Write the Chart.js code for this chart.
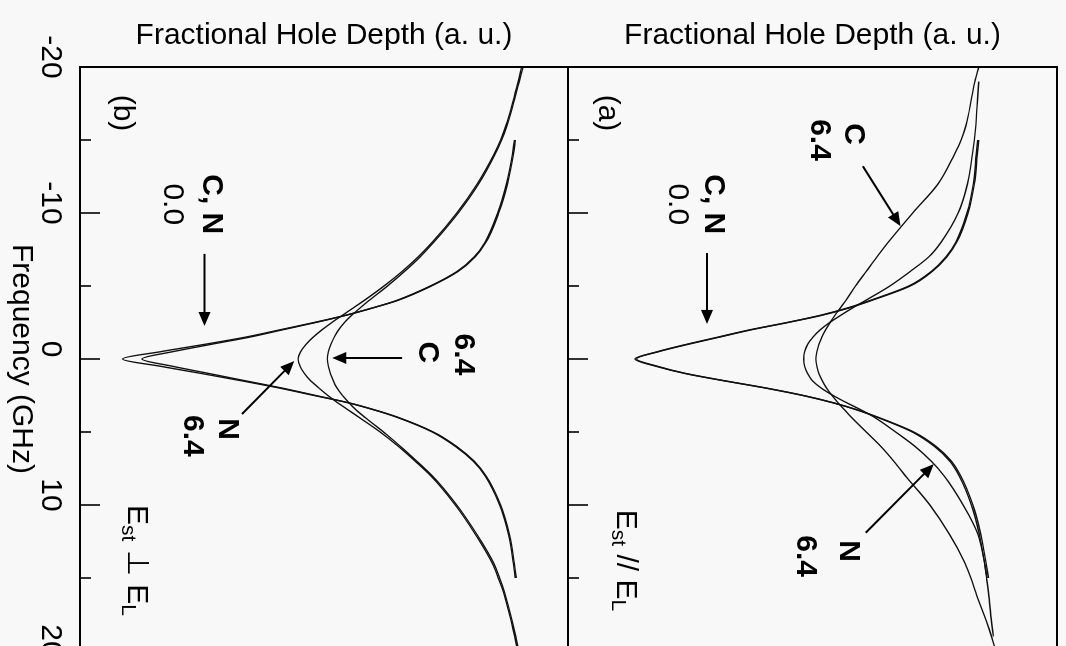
<!DOCTYPE html>
<html>
<head>
<meta charset="utf-8">
<script src="https://cdn.jsdelivr.net/npm/chart.js@4.4.0/dist/chart.umd.min.js"></script>
<style>
  html, body { margin: 0; padding: 0; background: #f8f8f8; overflow: hidden; width: 1066px; height: 646px; }
  /* the figure is laid out upright and turned a quarter turn clockwise */
  #figure { position: absolute; left: 0; top: 0; width: 680px; height: 1066px;
            transform-origin: 0 0; transform: translate(1066px, 0) rotate(90deg); }
  #figure canvas { position: absolute; left: 0; }
  #panel_a { top: 0; }
  #panel_b { top: 498px; }
</style>
</head>
<body>
<div id="figure">
  <canvas id="panel_a" width="680" height="498"></canvas>
  <canvas id="panel_b" width="680" height="568"></canvas>
</div>
<script>
// frequency grid (GHz) shared by every curve
const freq = [-20, -19, -18, -16, -15, -14, -12, -10, -8, -7, -6, -5, -4, -3.5, -3, -2.5, -2, -1.5, -1, -0.5,
              0, 0.5, 1, 1.5, 2, 2.5, 3, 3.5, 4, 5, 6, 7, 8, 10, 12, 14, 15, 16, 18, 19, 20];
const freq_ticks = [-20, -15, -10, -5, 0, 5, 10, 15, 20];

// (a) E_st // E_L
const a_C_00 = [null, null, null, null, 0.0, 0.003, 0.009, 0.022, 0.045, 0.065, 0.095, 0.14, 0.22, 0.265, 0.32, 0.39, 0.465, 0.53, 0.595, 0.655,
                0.703, 0.66, 0.6, 0.52, 0.435, 0.36, 0.298, 0.247, 0.205, 0.133, 0.087, 0.056, 0.037, 0.012, -0.004, -0.015, -0.02, null, null, null, null];
const a_N_00 = [null, null, null, null, 0.002, 0.005, 0.011, 0.024, 0.047, 0.067, 0.097, 0.143, 0.223, 0.268, 0.323, 0.392, 0.468, 0.533, 0.598, 0.657,
                0.70, 0.657, 0.598, 0.518, 0.433, 0.358, 0.297, 0.248, 0.207, 0.136, 0.09, 0.059, 0.04, 0.015, -0.001, -0.012, -0.017, null, null, null, null];
const a_C_64 = [0.0, 0.008, 0.014, 0.026, 0.036, 0.05, 0.083, 0.135, 0.185, 0.208, 0.23, 0.252, 0.272, 0.283, 0.294, 0.304, 0.313, 0.321, 0.327, 0.331,
                0.333, 0.331, 0.327, 0.32, 0.311, 0.3, 0.288, 0.274, 0.26, 0.23, 0.2, 0.174, 0.15, 0.1, 0.06, 0.028, 0.016, 0.006, -0.016, -0.026, -0.035];
const a_N_64 = [null, 0.0, 0.002, 0.006, 0.009, 0.013, 0.023, 0.042, 0.077, 0.102, 0.14, 0.182, 0.232, 0.258, 0.282, 0.305, 0.324, 0.339, 0.35, 0.356,
                0.358, 0.356, 0.35, 0.34, 0.322, 0.298, 0.27, 0.24, 0.213, 0.17, 0.13, 0.097, 0.071, 0.032, 0.002, -0.012, -0.016, -0.02, -0.026, -0.03, null];

// (b) E_st perpendicular to E_L
const b_C_00 = [null, null, null, null, 0.008, 0.012, 0.024, 0.042, 0.068, 0.09, 0.125, 0.18, 0.25, 0.30, 0.355, 0.42, 0.49, 0.56, 0.645, 0.735,
                0.813, 0.735, 0.65, 0.568, 0.49, 0.42, 0.35, 0.295, 0.248, 0.176, 0.128, 0.092, 0.068, 0.038, 0.02, 0.01, 0.006, null, null, null, null];
const b_N_00 = [null, null, null, null, 0.01, 0.014, 0.026, 0.044, 0.07, 0.092, 0.127, 0.182, 0.252, 0.30, 0.354, 0.417, 0.485, 0.552, 0.632, 0.71,
                0.773, 0.71, 0.635, 0.56, 0.485, 0.417, 0.35, 0.296, 0.25, 0.178, 0.13, 0.094, 0.07, 0.04, 0.022, 0.012, 0.008, null, null, null, null];
const b_C_64 = [-0.008, 0.0, 0.008, 0.025, 0.036, 0.05, 0.083, 0.125, 0.175, 0.203, 0.235, 0.27, 0.308, 0.326, 0.343, 0.358, 0.37, 0.379, 0.386, 0.391,
                0.393, 0.391, 0.387, 0.381, 0.373, 0.362, 0.349, 0.334, 0.316, 0.278, 0.243, 0.21, 0.178, 0.128, 0.087, 0.052, 0.04, 0.03, 0.014, 0.007, 0.001];
const b_N_64 = [-0.005, 0.002, 0.01, 0.027, 0.038, 0.052, 0.086, 0.128, 0.178, 0.207, 0.24, 0.277, 0.318, 0.34, 0.362, 0.384, 0.404, 0.422, 0.437, 0.448,
                0.453, 0.449, 0.44, 0.427, 0.41, 0.392, 0.372, 0.35, 0.328, 0.285, 0.247, 0.213, 0.181, 0.131, 0.09, 0.055, 0.043, 0.032, 0.016, 0.009, 0.003];

const FONT = '"Liberation Sans", Arial, "DejaVu Sans", sans-serif';

function to_points(values) {
    const pts = [];
    values.forEach((v, i) => { if (v !== null) pts.push({ x: freq[i], y: v }); });
    return pts;
}

function curve(label, values) {
    return {
        label: label,
        data: to_points(values),
        borderColor: '#111',
        borderWidth: 1.4,
        pointRadius: 0,
        fill: false,
        cubicInterpolationMode: 'monotone'
    };
}

// box around the plot and inward ticks on the frequency axis
const frame_plugin = {
    id: 'frame',
    afterDraw(chart) {
        const { ctx, chartArea: a } = chart;
        const x = chart.scales.x;
        ctx.save();
        ctx.strokeStyle = '#000';
        ctx.lineWidth = 2;
        ctx.strokeRect(a.left, a.top, a.right - a.left, a.bottom - a.top);
        ctx.lineWidth = 1.6;
        freq_ticks.forEach(f => {
            const px = x.getPixelForValue(f);
            const len = f % 10 === 0 ? 20 : 11;
            ctx.beginPath();
            ctx.moveTo(px, a.bottom);
            ctx.lineTo(px, a.bottom - len);
            ctx.stroke();
        });
        ctx.restore();
    }
};

function draw_arrow(ctx, x1, y1, x2, y2) {
    const ang = Math.atan2(y2 - y1, x2 - x1);
    const head = 14, half = 6;
    ctx.beginPath();
    ctx.moveTo(x1, y1);
    ctx.lineTo(x2 - Math.cos(ang) * head * 0.8, y2 - Math.sin(ang) * head * 0.8);
    ctx.stroke();
    ctx.beginPath();
    ctx.moveTo(x2, y2);
    ctx.lineTo(x2 - Math.cos(ang) * head - Math.sin(ang) * half, y2 - Math.sin(ang) * head + Math.cos(ang) * half);
    ctx.lineTo(x2 - Math.cos(ang) * head + Math.sin(ang) * half, y2 - Math.sin(ang) * head - Math.cos(ang) * half);
    ctx.closePath();
    ctx.fill();
}

// curve labels, arrows and the field orientation note
const notes_plugin = {
    id: 'notes',
    afterDraw(chart, args, opts) {
        const { ctx } = chart;
        const x = chart.scales.x, y = chart.scales.y;
        ctx.save();
        ctx.fillStyle = '#000';
        ctx.strokeStyle = '#000';
        ctx.textAlign = 'center';
        ctx.textBaseline = 'middle';
        (opts.texts || []).forEach(t => {
            ctx.font = (t.bold ? 'bold ' : '') + '30px ' + FONT;
            ctx.fillText(t.text, x.getPixelForValue(t.f), y.getPixelForValue(t.d));
        });
        ctx.lineWidth = 2;
        (opts.arrows || []).forEach(a => {
            draw_arrow(ctx, x.getPixelForValue(a.f1), y.getPixelForValue(a.d1),
                            x.getPixelForValue(a.f2), y.getPixelForValue(a.d2));
        });
        if (opts.field) {
            const big = '30px ' + FONT, small = '21px ' + FONT;
            const parts = [
                { s: 'E', font: big, dy: 0 },
                { s: 'st', font: small, dy: 8 },
                { s: ' ' + opts.field.sym + ' ', font: big, dy: 0 },
                { s: 'E', font: big, dy: 0 },
                { s: 'L', font: small, dy: 8 }
            ];
            let total = 0;
            parts.forEach(p => { ctx.font = p.font; p.w = ctx.measureText(p.s).width; total += p.w; });
            let cx = x.getPixelForValue(opts.field.f) - total / 2;
            const cy = y.getPixelForValue(opts.field.d);
            ctx.textAlign = 'left';
            parts.forEach(p => {
                ctx.font = p.font;
                ctx.fillText(p.s, cx, cy + p.dy);
                cx += p.w;
            });
        }
        ctx.restore();
    }
};

function make_panel(canvas_id, datasets, y_min, y_max, freq_axis, top_pad, notes) {
    const canvas = document.getElementById(canvas_id);
    return new Chart(canvas, {
        type: 'line',
        data: { datasets: datasets },
        plugins: [frame_plugin, notes_plugin],
        options: {
            responsive: false,
            animation: false,
            devicePixelRatio: 1,
            layout: { padding: { left: 0, right: 29, top: top_pad, bottom: 0 } },
            plugins: {
                legend: { display: false },
                tooltip: { enabled: false },
                notes: notes
            },
            scales: {
                x: {
                    type: 'linear',
                    min: -20,
                    max: 20,
                    grid: { display: false, drawTicks: false },
                    border: { display: false },
                    ticks: {
                        display: freq_axis,
                        stepSize: 10,
                        padding: 12,
                        labelOffset: -10,
                        color: '#000',
                        font: { family: FONT, size: 30 }
                    },
                    title: {
                        display: freq_axis,
                        text: 'Frequency (GHz)',
                        color: '#000',
                        padding: { top: 0, bottom: 3 },
                        font: { family: FONT, size: 30 }
                    },
                    afterFit: s => { s.height = freq_axis ? 80 : 0; }
                },
                y: {
                    type: 'linear',
                    reverse: true,
                    min: y_min,
                    max: y_max,
                    grid: { display: false, drawTicks: false },
                    border: { display: false },
                    ticks: { display: false },
                    title: {
                        display: true,
                        text: 'Fractional Hole Depth (a. u.)',
                        color: '#000',
                        padding: { top: 18, bottom: 0 },
                        font: { family: FONT, size: 30 }
                    },
                    afterFit: s => { s.width = 67; }
                }
            }
        }
    });
}

make_panel('panel_a',
    [curve('C 0.0', a_C_00), curve('N 0.0', a_N_00), curve('C 6.4', a_C_64), curve('N 6.4', a_N_64)],
    -0.16, 0.84, false, 9,
    {
        texts: [
            { text: '(a)', f: -16.85, d: 0.759 },
            { text: 'C', f: -15.4, d: 0.256, bold: true },
            { text: '6.4', f: -15.0, d: 0.327, bold: true },
            { text: 'C, N', f: -10.6, d: 0.542, bold: true },
            { text: '0.0', f: -10.6, d: 0.616 },
            { text: 'N', f: 13.15, d: 0.266, bold: true },
            { text: '6.4', f: 13.5, d: 0.354, bold: true }
        ],
        arrows: [
            { f1: -13.2, d1: 0.237, f2: -9.1, d2: 0.16 },
            { f1: -7.26, d1: 0.556, f2: -2.4, d2: 0.556 },
            { f1: 11.9, d1: 0.231, f2: 7.2, d2: 0.092 }
        ],
        field: { sym: '//', f: 13.8, d: 0.722 }
    });

make_panel('panel_b',
    [curve('C 0.0', b_C_00), curve('N 0.0', b_N_00), curve('C 6.4', b_C_64), curve('N 6.4', b_N_64)],
    -0.1, 0.9, true, 0,
    {
        texts: [
            { text: '(b)', f: -16.85, d: 0.814 },
            { text: 'C, N', f: -10.6, d: 0.631, bold: true },
            { text: '0.0', f: -10.6, d: 0.711 },
            { text: '6.4', f: -0.31, d: 0.115, bold: true },
            { text: 'C', f: -0.45, d: 0.188, bold: true },
            { text: 'N', f: 4.8, d: 0.598, bold: true },
            { text: '6.4', f: 5.27, d: 0.67, bold: true }
        ],
        arrows: [
            { f1: -7.2, d1: 0.645, f2: -2.26, d2: 0.645 },
            { f1: -0.07, d1: 0.24, f2: -0.07, d2: 0.383 },
            { f1: 3.77, d1: 0.568, f2: 0.14, d2: 0.461 }
        ],
        field: { sym: '\u22A5', f: 13.8, d: 0.785 }
    });
</script>
</body>
</html>
